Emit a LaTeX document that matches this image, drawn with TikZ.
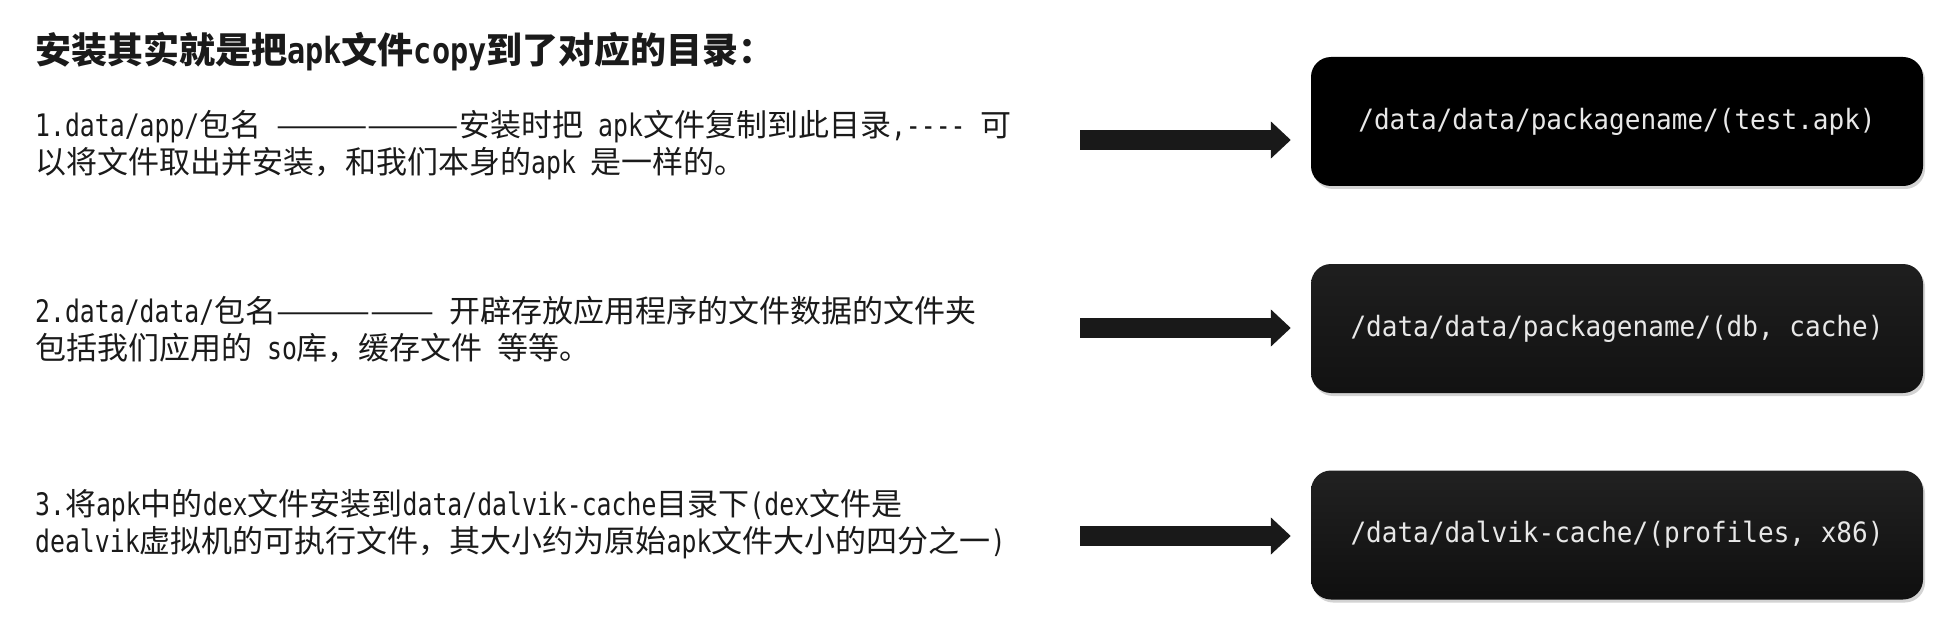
\documentclass[tikz,border=0pt]{standalone}
\usepackage{fontspec}
\usepackage{graphicx}
\usetikzlibrary{arrows.meta,shadows}
\newfontfamily\cjk{Noto Sans CJK SC}
\newfontfamily\hwfont[FakeStretch=0.80]{DejaVu Sans Mono}
\newfontfamily\twfont[FakeStretch=0.84]{DejaVu Sans Mono}
\newfontfamily\boxfont[FakeStretch=0.93]{DejaVu Sans Mono}
\newcommand\hw[1]{{\hwfont#1}}
\newcommand\tw[1]{{\twfont\bfseries#1}}
\newcommand\longdash[2]{\resizebox{#1}{\height}{#2}}
\definecolor{txt}{HTML}{1A1A1A}
\definecolor{boxtxt}{HTML}{E8E8E8}
\begin{document}
\begin{tikzpicture}[x=1pt,y=-1pt,
  desc/.style={anchor=west,inner sep=0pt,align=left,text=txt,font=\cjk\fontsize{31}{37}\selectfont},
  titletext/.style={anchor=west,inner sep=0pt,text=txt,font=\cjk\bfseries\fontsize{36}{42}\selectfont},
  dirbox/.style={rounded corners=20pt,minimum width=612pt,minimum height=129pt,text=boxtxt,
    font=\boxfont\fontsize{28}{32}\selectfont,
    drop shadow={shadow xshift=2pt,shadow yshift=-3pt,opacity=0.35}},
  bigarrow/.style={line width=20pt,draw=black!90,-{Triangle[width=36pt,length=20pt]},shorten >=20pt}
]
\useasboundingbox (0,0) rectangle (1945,631);
\node[titletext] (t) at (35,52) {安装其实就是把\tw{apk}文件\tw{copy}到了对应的目录：};
\node[desc] (d1) at (35,145.5) {\hw{1.data/app/}包名\hw{ }\longdash{5.9em}{——————}安装时把\hw{ apk}文件复制到此目录\hw{,---- }可\\以将文件取出并安装，和我们本身的\hw{apk }是一样的。};
\node[desc] (d2) at (35,329.5) {\hw{2.data/data/}包名\longdash{5.1em}{—————}\hw{ }开辟存放应用程序的文件数据的文件夹\\包括我们应用的\hw{ so}库，缓存文件\hw{ }等等。};
\node[desc] (d3) at (35,524) {\hw{3.}将\hw{apk}中的\hw{dex}文件安装到\hw{data/dalvik-cache}目录下\hw{(dex}文件是\\\hw{dealvik}虚拟机的可执行文件，其大小约为原始\hw{apk}文件大小的四分之一\hw{)}};
\node[dirbox,fill=black] (b1) at (1617,121.5) {/data/data/packagename/(test.apk)};
\node[dirbox,top color=black!88,bottom color=black!93] (b2) at (1617,328.5) {/data/data/packagename/(db, cache)};
\node[dirbox,top color=black!87,bottom color=black!94] (b3) at (1617,535) {/data/dalvik-cache/(profiles, x86)};
\coordinate (a1) at (1080,140);
\coordinate (a2) at (1080,328);
\coordinate (a3) at (1080,536);
\draw[bigarrow] (a1) -- (b1.west |- a1);
\draw[bigarrow] (a2) -- (b2.west |- a2);
\draw[bigarrow] (a3) -- (b3.west |- a3);
\end{tikzpicture}
\end{document}
